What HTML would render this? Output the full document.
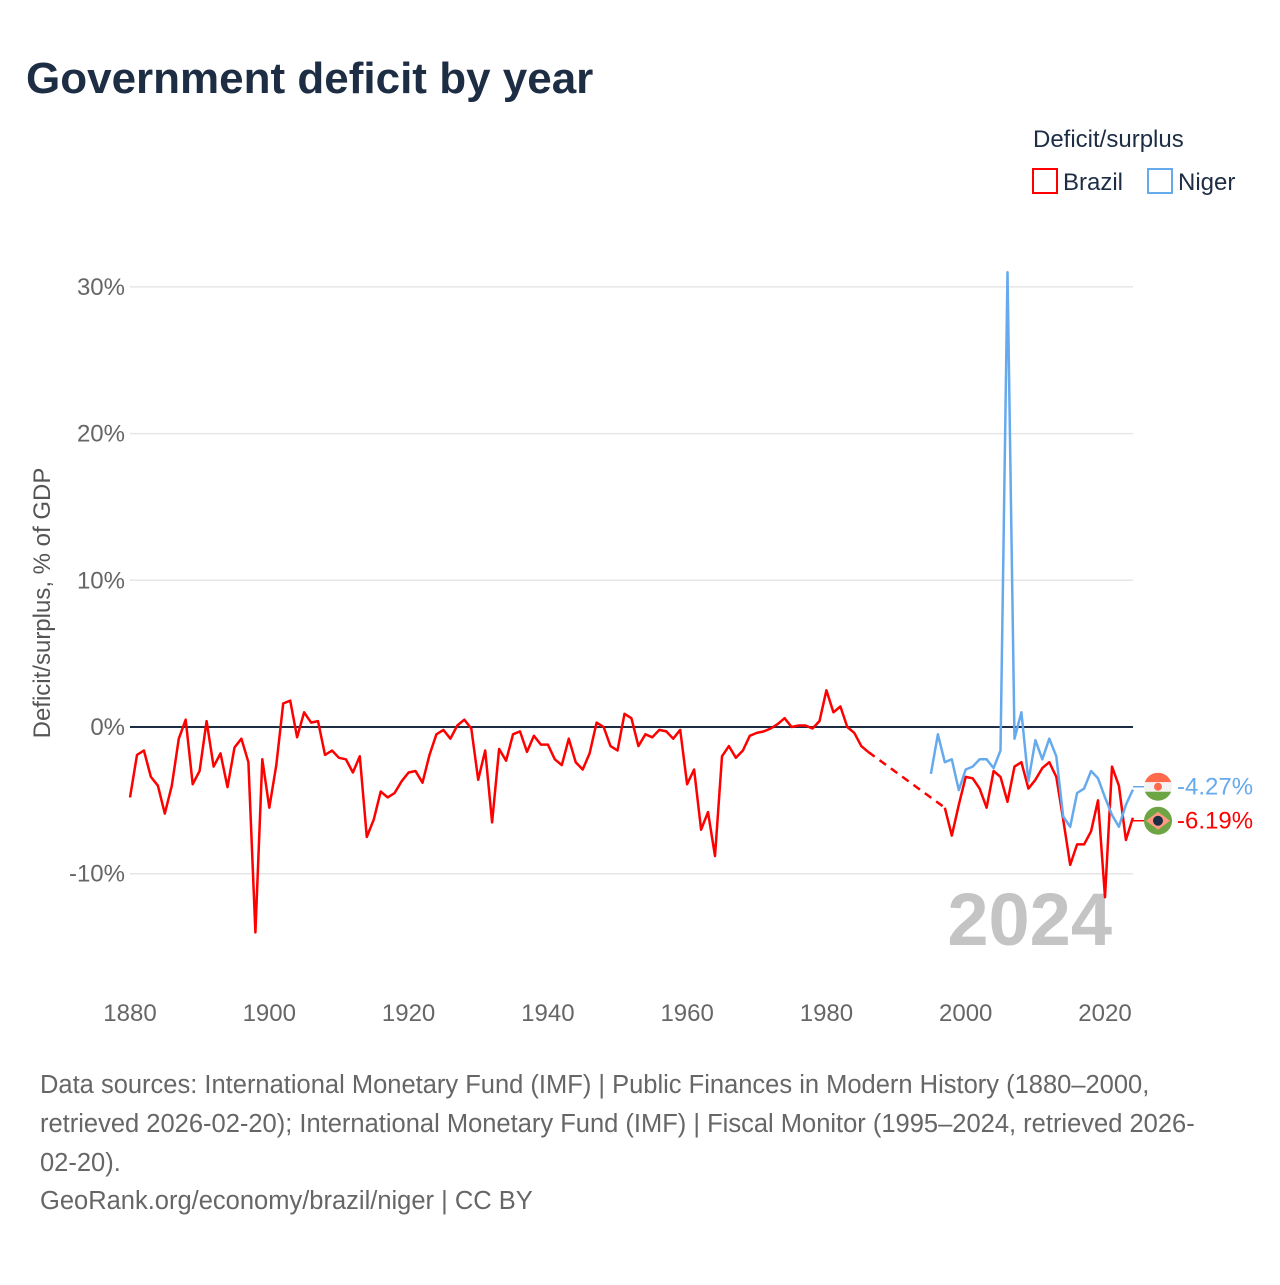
<!DOCTYPE html>
<html><head><meta charset="utf-8"><style>
body{margin:0;background:#fff;}
svg text{font-family:"Liberation Sans",sans-serif;}
</style></head><body>
<svg id="chart" width="1280" height="1280" viewBox="0 0 1280 1280" xmlns="http://www.w3.org/2000/svg">
<text x="26" y="93" font-size="44" font-weight="bold" fill="#1d2d44">Government deficit by year</text>
<g>
<text x="1033" y="147" font-size="24" fill="#1d2d44">Deficit/surplus</text>
<g><rect x="1033" y="169" width="24" height="24" fill="none" stroke="#f00" stroke-width="2"/><text x="1063" y="190" font-size="24" fill="#1d2d44">Brazil</text></g>
<g><rect x="1148" y="169" width="24" height="24" fill="none" stroke="#66aaee" stroke-width="2"/><text x="1178" y="190" font-size="24" fill="#1d2d44">Niger</text></g>
</g>
<text transform="translate(50,603) rotate(-90)" text-anchor="middle" font-size="24" fill="#555">Deficit/surplus, % of GDP</text>
<g id="grid"></g>
<text x="1112" y="945" text-anchor="end" font-size="74" font-weight="bold" fill="#c4c4c4">2024</text>
<g id="marks"></g>
<g font-size="25.5" fill="#666">
<text x="40" y="1093">Data sources: International Monetary Fund (IMF) | Public Finances in Modern History (1880–2000,</text>
<text x="40" y="1132">retrieved 2026-02-20); International Monetary Fund (IMF) | Fiscal Monitor (1995–2024, retrieved 2026-</text>
<text x="40" y="1171">02-20).</text>
<text x="40" y="1209">GeoRank.org/economy/brazil/niger | CC BY</text>
</g>
</svg>
<script>
const yTicks=[30,20,10,0,-10];
const xTicks=[1880,1900,1920,1940,1960,1980,2000,2020];
const brazilYears1=[1880,1881,1882,1883,1884,1885,1886,1887,1888,1889,1890,1891,1892,1893,1894,1895,1896,1897,1898,1899,1900,1901,1902,1903,1904,1905,1906,1907,1908,1909,1910,1911,1912,1913,1914,1915,1916,1917,1918,1919,1920,1921,1922,1923,1924,1925,1926,1927,1928,1929,1930,1931,1932,1933,1934,1935,1936,1937,1938,1939,1940,1941,1942,1943,1944,1945,1946,1947,1948,1949,1950,1951,1952,1953,1954,1955,1956,1957,1958,1959,1960,1961,1962,1963,1964,1965,1966,1967,1968,1969,1970,1971,1972,1973,1974,1975,1976,1977,1978,1979,1980,1981,1982,1983,1984,1985,1986];
const brazilValues1=[-4.8,-1.9,-1.6,-3.4,-4.0,-5.9,-4.0,-0.8,0.5,-3.9,-3.0,0.4,-2.7,-1.8,-4.1,-1.4,-0.8,-2.4,-14.0,-2.2,-5.5,-2.6,1.6,1.8,-0.7,1.0,0.3,0.4,-1.9,-1.6,-2.1,-2.2,-3.1,-2.0,-7.5,-6.3,-4.4,-4.8,-4.5,-3.7,-3.1,-3.0,-3.8,-1.9,-0.5,-0.2,-0.8,0.1,0.5,-0.1,-3.6,-1.6,-6.5,-1.5,-2.3,-0.5,-0.3,-1.7,-0.6,-1.2,-1.2,-2.2,-2.6,-0.8,-2.4,-2.9,-1.8,0.3,0.0,-1.3,-1.6,0.9,0.6,-1.3,-0.5,-0.7,-0.2,-0.3,-0.8,-0.2,-3.9,-2.9,-7.0,-5.8,-8.8,-2.0,-1.3,-2.1,-1.6,-0.6,-0.4,-0.3,-0.1,0.2,0.6,0.0,0.1,0.1,-0.1,0.4,2.5,1.0,1.4,0.0,-0.4,-1.3,-1.7];
const brazilYears2=[1997,1998,1999,2000,2001,2002,2003,2004,2005,2006,2007,2008,2009,2010,2011,2012,2013,2014,2015,2016,2017,2018,2019,2020,2021,2022,2023,2024];
const brazilValues2=[-5.5,-7.4,-5.3,-3.4,-3.5,-4.2,-5.5,-3.0,-3.4,-5.1,-2.7,-2.4,-4.2,-3.6,-2.8,-2.4,-3.4,-6.3,-9.4,-8.0,-8.0,-7.1,-5.0,-11.6,-2.7,-4.0,-7.7,-6.19];
const nigerYears=[1995,1996,1997,1998,1999,2000,2001,2002,2003,2004,2005,2006,2007,2008,2009,2010,2011,2012,2013,2014,2015,2016,2017,2018,2019,2020,2021,2022,2023,2024];
const nigerValues=[-3.2,-0.5,-2.4,-2.2,-4.3,-2.9,-2.7,-2.2,-2.2,-2.8,-1.6,31.0,-0.8,1.0,-3.7,-0.9,-2.2,-0.8,-2.0,-6.1,-6.8,-4.5,-4.2,-3.0,-3.5,-4.8,-6.0,-6.8,-5.3,-4.27];

const NS='http://www.w3.org/2000/svg';
const X=y=>130+(y-1880)*(975/140);
const Y=v=>727-v*14.67;
function el(tag,attrs,parent){const e=document.createElementNS(NS,tag);for(const k in attrs)e.setAttribute(k,attrs[k]);parent.appendChild(e);return e;}
const grid=document.getElementById('grid');
const marks=document.getElementById('marks');
yTicks.forEach(t=>{
  const l=el('line',{x1:130,x2:1133,y1:Y(t),y2:Y(t),stroke:t===0?'#1d2d44':'#e6e6e6','stroke-width':t===0?2:1.5},grid);
  
  
  const tx=el('text',{x:125,y:Y(t)+8,'text-anchor':'end','font-size':24,fill:'#666'},grid);
  tx.textContent=t+'%';
  
  
});
xTicks.forEach(t=>{
  const tx=el('text',{x:X(t),y:1021,'text-anchor':'middle','font-size':24,fill:'#666'},grid);
  tx.textContent=t;
  
  
});
function pts(ys,vs){return ys.map((y,i)=>X(y).toFixed(1)+','+Y(vs[i]).toFixed(1)).join(' ');}
let p=el('polyline',{points:pts(brazilYears1,brazilValues1),fill:'none',stroke:'#f00','stroke-width':2.5,'stroke-linejoin':'round'},marks);


const n1=brazilYears1.length-1;
p=el('line',{x1:X(brazilYears1[n1]),y1:Y(brazilValues1[n1]),x2:X(brazilYears2[0]),y2:Y(brazilValues2[0]),stroke:'#f00','stroke-width':2.5,'stroke-dasharray':'8,6'},marks);


p=el('polyline',{points:pts(brazilYears2,brazilValues2),fill:'none',stroke:'#f00','stroke-width':2.5,'stroke-linejoin':'round'},marks);


p=el('polyline',{points:pts(nigerYears,nigerValues),fill:'none',stroke:'#66aaee','stroke-width':2.5,'stroke-linejoin':'round'},marks);


// end labels (dodged apart)
const nv=nigerValues[nigerValues.length-1], bv=brazilValues2[brazilValues2.length-1];
let ny=Y(nv), by=Y(bv);
const mid=(ny+by)/2; if(by-ny<34){ny=mid-17;by=mid+17;}
let g=el('g',{},marks);


el('line',{x1:1133,x2:1144,y1:ny,y2:ny,stroke:'#66aaee','stroke-width':1.5},g);
const cp=el('clipPath',{id:'cn'},g);
el('circle',{cx:1158,cy:ny,r:14},cp);
el('rect',{x:1144,y:ny-14,width:28,height:9.5,fill:'#ff6a4d','clip-path':'url(#cn)'},g);
el('rect',{x:1144,y:ny-4.5,width:28,height:9.5,fill:'#f3f3f3','clip-path':'url(#cn)'},g);
el('rect',{x:1144,y:ny+5,width:28,height:9.5,fill:'#6da544','clip-path':'url(#cn)'},g);
el('circle',{cx:1158,cy:ny,r:4,fill:'#ff6a4d'},g);
let t=el('text',{x:1177,y:ny+8,'font-size':24,fill:'#66aaee'},g);t.textContent=nv.toFixed(2)+'%';
g=el('g',{},marks);


el('line',{x1:1133,x2:1144,y1:by,y2:by,stroke:'#f00','stroke-width':1.5},g);
el('circle',{cx:1158,cy:by,r:14,fill:'#6da544'},g);
el('polygon',{points:`1146,${by} 1158,${by-9} 1170,${by} 1158,${by+9}`,fill:'#ff9a80'},g);
el('circle',{cx:1158,cy:by,r:5,fill:'#1d2d44'},g);
t=el('text',{x:1177,y:by+8,'font-size':24,fill:'#f00'},g);t.textContent=bv.toFixed(2)+'%';
</script>
</body></html>
